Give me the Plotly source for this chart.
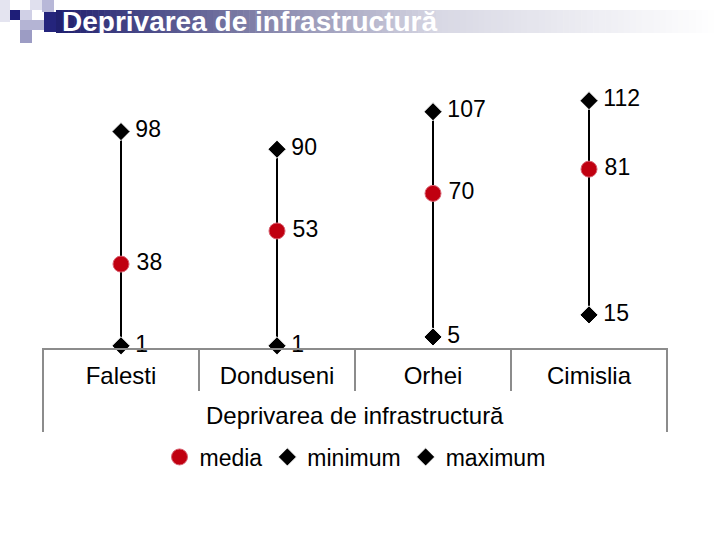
import plotly.graph_objects as go

# ---- data ----
categories = ["Falesti", "Donduseni", "Orhei", "Cimislia"]
group_label = "Deprivarea de infrastructură"
media = [38, 53, 70, 81]
minimum = [1, 1, 5, 15]
maximum = [98, 90, 107, 112]
title_text = "Deprivarea de infrastructură"

# ---- layout geometry ----
W, H = 720, 540
ML, MR, MT, MB = 43, 53, 83, 192
PW, PH = W - ML - MR, H - MT - MB


def px_x(px):
    return (px - ML) / PW


def px_y(py):
    return (H - MB - py) / PH


FONT = "Liberation Sans, Arial, sans-serif"
GRAY = "#8c8c8c"
PAD = "\u2009"  # small gap between marker and its value label

fig = go.Figure()

# media with min-max range lines (error bars)
fig.add_trace(go.Scatter(
    x=categories, y=media, name="media", mode="markers+text",
    text=[PAD + str(v) for v in media], textposition="middle right",
    textfont=dict(family=FONT, size=23, color="black"),
    marker=dict(symbol="circle", size=16, color="#c00010",
                line=dict(color="#d86070", width=1)),
    error_y=dict(type="data", symmetric=False,
                 array=[mx - m for mx, m in zip(maximum, media)],
                 arrayminus=[m - mn for m, mn in zip(media, minimum)],
                 color="black", thickness=2, width=0),
    cliponaxis=False,
))
fig.add_trace(go.Scatter(
    x=categories, y=minimum, name="minimum", mode="markers+text",
    text=[PAD + str(v) for v in minimum], textposition="middle right",
    textfont=dict(family=FONT, size=23, color="black"),
    marker=dict(symbol="diamond", size=14, color="black",
                line=dict(color="white", width=1)),
    cliponaxis=False,
))
fig.add_trace(go.Scatter(
    x=categories, y=maximum, name="maximum", mode="markers+text",
    text=[PAD + str(v) for v in maximum], textposition="middle right",
    textfont=dict(family=FONT, size=23, color="black"),
    marker=dict(symbol="diamond", size=14, color="black",
                line=dict(color="white", width=1)),
    cliponaxis=False,
))
# invisible trace so the overlay axis (category boundary ticks) is drawn
fig.add_trace(go.Scatter(x=[None], y=[None], xaxis="x2", yaxis="y",
                         showlegend=False, hoverinfo="skip", mode="markers"))

# ---- title band decorations ----
shapes = []
squares = [
    (0, 0, 10, 22, "#e4e4f0"),
    (30, 0, 42, 10, "#e0e0ee"),
    (42, 0, 54, 12, "#b8b8d8"),
    (20, 10, 32, 20, "#d0d0e6"),
    (10, 10, 20, 20, "#1e1e78"),
    (20, 20, 44, 30, "#b4b4d4"),
    (20, 30, 32, 43, "#9c9cc4"),
    (44, 12, 56, 32, "#24247c"),
]
for x0, y0, x1, y1, c in squares:
    shapes.append(dict(type="rect", xref="paper", yref="paper",
                       x0=px_x(x0), x1=px_x(x1), y0=px_y(y1), y1=px_y(y0),
                       fillcolor=c, line=dict(width=0), layer="above"))

stops = [(56, (30, 30, 110)), (250, (126, 126, 166)),
         (440, (216, 216, 228)), (720, (255, 255, 255))]


def grad(px):
    for (a, ca), (b, cb) in zip(stops[:-1], stops[1:]):
        if a <= px <= b:
            t = (px - a) / (b - a)
            return tuple(int(round(ca[i] + (cb[i] - ca[i]) * t)) for i in range(3))
    return stops[-1][1]


n_seg = 110
x_start, x_end = 56, 720
for i in range(n_seg):
    a = x_start + (x_end - x_start) * i / n_seg
    b = x_start + (x_end - x_start) * (i + 1) / n_seg + 0.6
    r, g, bb = grad((a + b) / 2)
    shapes.append(dict(type="rect", xref="paper", yref="paper",
                       x0=px_x(a), x1=px_x(b), y0=px_y(33), y1=px_y(10),
                       fillcolor=f"rgb({r},{g},{bb})", line=dict(width=0),
                       layer="above"))

# outer frame lines of the category axis (left and right edges)
for xd in (0, 1):
    shapes.append(dict(type="line", xref="x domain", yref="paper",
                       x0=xd, x1=xd, y0=px_y(432), y1=0,
                       line=dict(color=GRAY, width=2)))

fig.update_layout(
    width=W, height=H,
    margin=dict(l=ML, r=MR, t=MT, b=MB),
    paper_bgcolor="white", plot_bgcolor="white",
    font=dict(family=FONT, size=24, color="black"),
    showlegend=True,
    legend=dict(orientation="h", x=0.5, xanchor="center",
                y=px_y(457), yanchor="middle",
                font=dict(family=FONT, size=23, color="black"),
                itemwidth=30, bgcolor="rgba(0,0,0,0)"),
    xaxis=dict(type="category", categoryorder="array", categoryarray=categories,
               range=[-0.5, len(categories) - 0.5],
               showline=True, linecolor=GRAY, linewidth=2,
               ticks="outside", ticklen=5, tickcolor="rgba(0,0,0,0)",
               showgrid=False, zeroline=False, fixedrange=True,
               tickfont=dict(family=FONT, size=24, color="black")),
    xaxis2=dict(overlaying="x", anchor="y", side="bottom",
                range=[-0.5, len(categories) - 0.5],
                tickmode="array",
                tickvals=[i + 0.5 for i in range(len(categories) - 1)],
                ticks="outside", ticklen=42, tickwidth=2, tickcolor=GRAY,
                showticklabels=False, showgrid=False, zeroline=False,
                showline=False, fixedrange=True),
    yaxis=dict(range=[0, 120], visible=False, fixedrange=True),
    shapes=shapes,
    annotations=[
        dict(text=f"<b>{title_text}</b>", xref="paper", yref="paper",
             x=px_x(60), y=px_y(21), xanchor="left", yanchor="middle",
             showarrow=False, font=dict(family=FONT, size=28, color="white")),
        dict(text=group_label, xref="x domain", yref="paper",
             x=0.5, y=px_y(415), xanchor="center", yanchor="middle",
             showarrow=False, font=dict(family=FONT, size=24, color="black")),
    ],
)

fig.write_html("out.html", config={"displayModeBar": False},
               post_script="document.body.style.margin='0';")
